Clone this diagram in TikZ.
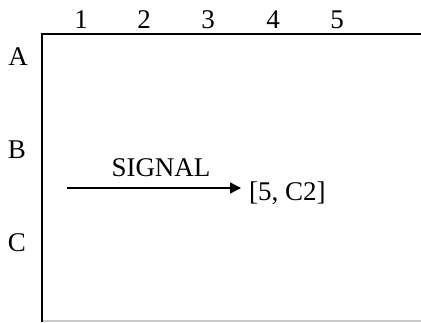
\documentclass[tikz,border=0pt]{standalone}
\usepackage{fontspec}
\setmainfont{Liberation Serif}
\usetikzlibrary{arrows.meta}
\begin{document}
\begin{tikzpicture}[x=1pt,y=-1pt,
  lbl/.style={font=\fontsize{27}{31}\selectfont,inner sep=0pt,anchor=base},
  frameline/.style={line width=2.6pt},
  floorline/.style={line width=1.2pt,draw={rgb,255:red,200;green,200;blue,200}},
  sig/.style={line width=1.4pt,-{Triangle[length=11pt,width=11pt]}}]
\useasboundingbox (0,0) rectangle (421,322);
% frame
\coordinate (tl) at (42,34);
\coordinate (tr) at (421,34);
\coordinate (bl) at (42,322);
\coordinate (br) at (421,321);
\draw[floorline] (42,321) -- (br);
\draw[frameline] (tr) -- (tl) -- (bl);
% column labels
\node[lbl] (c1) at (81,28) {1};
\node[lbl] (c2) at (144,28) {2};
\node[lbl] (c3) at (208,28) {3};
\node[lbl] (c4) at (273,28) {4};
\node[lbl] (c5) at (337,28) {5};
% row labels
\node[lbl] (rA) at (18,65) {A};
\node[lbl] (rB) at (17,158) {B};
\node[lbl] (rC) at (17,251) {C};
% signal
\node[lbl] (signal) at (161,176) {SIGNAL};
\coordinate (start) at (67,188);
\node[lbl,anchor=base west,inner xsep=8pt] (tgt) at (241,200) {[5, C2]};
\draw[sig] (start) -- (start -| tgt.west);
\end{tikzpicture}
\end{document}
